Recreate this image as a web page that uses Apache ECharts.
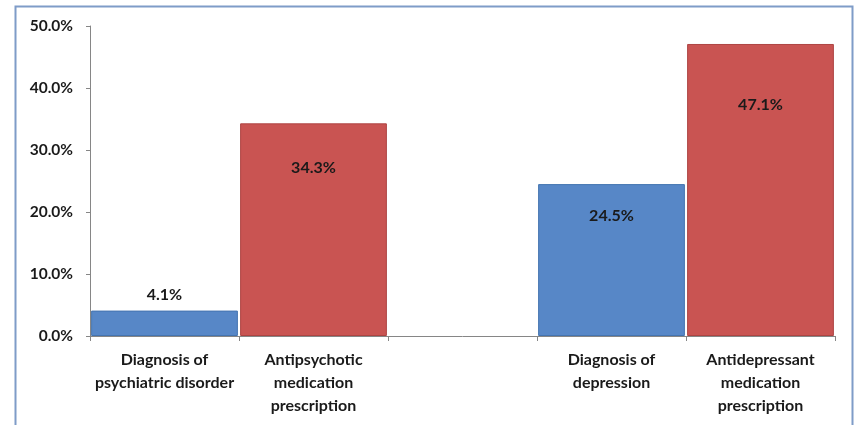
<!DOCTYPE html>
<html>
<head>
<meta charset="utf-8">
<script src="https://cdn.jsdelivr.net/npm/echarts@6/dist/echarts.min.js"></script>
<style>html,body{margin:0;padding:0;background:#fff;}#c{width:856px;height:425px;}</style>
</head>
<body>
<div id="c"></div>
<script>
var categories = ['Diagnosis of\npsychiatric disorder', 'Antipsychotic\nmedication\nprescription', '', 'Diagnosis of\ndepression', 'Antidepressant\nmedication\nprescription'];
var values = [4.1, 34.3, null, 24.5, 47.1];
var barKinds = ['diagnosis', 'medication', 'none', 'diagnosis', 'medication'];
var yTicks = [0, 10, 20, 30, 40, 50];

var font = 'Lato, "Open Sans", sans-serif';
var palette = {
  diagnosis: {color: '#5787c7', border: '#4474b0'},
  medication: {color: '#c95452', border: '#ad4442'}
};

var data = values.map(function (v, i) {
  if (v === null) return '-';
  var p = palette[barKinds[i]];
  var small = v < 10;
  return {
    value: v,
    itemStyle: {color: p.color, borderColor: p.border, borderWidth: 1},
    label: small ? {position: 'top', distance: 8} : {position: ['50%', '21%'], align: 'center', verticalAlign: 'middle'}
  };
});

var chart = echarts.init(document.getElementById('c'));
chart.setOption({
  animation: false,
  backgroundColor: '#fff',
  graphic: [{
    type: 'rect',
    shape: {x: 15.5, y: 6.5, width: 837, height: 440},
    style: {fill: 'none', stroke: '#7f9cc8', lineWidth: 2},
    silent: true
  }],
  grid: {left: 90, right: 21, top: 26, bottom: 89},
  xAxis: {
    type: 'category',
    data: categories,
    axisLine: {lineStyle: {color: '#868686', width: 1}},
    axisTick: {show: true, length: 5, lineStyle: {color: '#868686'}},
    axisLabel: {
      interval: 0, margin: 12, color: '#1a1a1a', fontFamily: font, fontWeight: 'bold',
      fontSize: 16, lineHeight: 23
    }
  },
  yAxis: {
    type: 'value',
    min: yTicks[0], max: yTicks[yTicks.length - 1], interval: 10,
    axisLine: {show: true, lineStyle: {color: '#868686', width: 1}},
    axisTick: {show: true, length: 4, lineStyle: {color: '#868686'}},
    splitLine: {show: false},
    axisLabel: {
      margin: 17, color: '#1a1a1a', fontFamily: font, fontWeight: 'bold', fontSize: 15.5,
      formatter: function (v) { return v.toFixed(1) + '%'; }
    }
  },
  series: [{
    type: 'bar',
    data: data,
    barCategoryGap: '1.5%',
    label: {
      show: true, color: '#1a1a1a', fontFamily: font, fontWeight: 'bold', fontSize: 16,
      formatter: function (p) { return p.value.toFixed(1) + '%'; }
    }
  }]
});
</script>
</body>
</html>
